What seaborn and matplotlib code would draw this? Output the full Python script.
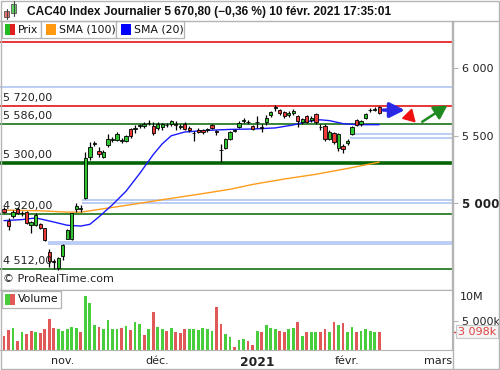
import numpy as np
import pandas as pd
import matplotlib
matplotlib.use("Agg")
import matplotlib.pyplot as plt
from matplotlib.patches import Rectangle, Polygon
from matplotlib.lines import Line2D
import matplotlib.transforms as mtrans
import seaborn as sns

# ---------------- data ----------------
opens = [4955, 4872, 4906, 4955, 4925, 4938, 4838, 4842, 4847, 4815,
         4637, 4570, 4520, 4611, 4739, 4734, 4957, 4960, 5037, 5345,
         5440, 5389, 5345, 5432, 5470, 5469, 5464, 5463, 5548, 5552,
         5575, 5572, 5595, 5574, 5560, 5562, 5580, 5587, 5582, 5567,
         5585, 5560, 5520, 5543, 5540, 5545, 5582, 5535, 5398, 5412,
         5474, 5538, 5567, 5610, 5605, 5572, 5600, 5562, 5599, 5653,
         5706, 5690, 5673, 5653, 5666, 5648, 5599, 5648, 5614, 5659,
         5565, 5575, 5474, 5518, 5407, 5424, 5444, 5511, 5616, 5585,
         5633, 5688, 5693, 5715]
highs = [4970, 4892, 4950, 4975, 4940, 4945, 4872, 4926, 4855, 4818,
         4660, 4590, 4605, 4700, 4810, 4932, 5005, 4990, 5382, 5456,
         5460, 5420, 5395, 5515, 5490, 5525, 5480, 5505, 5555, 5580,
         5590, 5600, 5615, 5600, 5600, 5595, 5595, 5620, 5609, 5590,
         5600, 5570, 5535, 5555, 5552, 5560, 5590, 5545, 5440, 5480,
         5535, 5548, 5610, 5635, 5615, 5580, 5645, 5585, 5655, 5685,
         5727, 5700, 5685, 5680, 5695, 5655, 5630, 5655, 5645, 5665,
         5590, 5585, 5540, 5530, 5520, 5440, 5475, 5570, 5625, 5615,
         5670, 5705, 5712, 5720]
lows = [4925, 4803, 4895, 4920, 4905, 4845, 4778, 4835, 4808, 4722,
        4530, 4518, 4508, 4581, 4735, 4726, 4938, 4935, 5030, 5320,
        5425, 5345, 5335, 5420, 5455, 5460, 5445, 5455, 5485, 5520,
        5555, 5560, 5580, 5505, 5545, 5545, 5565, 5575, 5542, 5550,
        5540, 5525, 5463, 5520, 5510, 5530, 5550, 5505, 5309, 5400,
        5465, 5528, 5560, 5595, 5585, 5545, 5555, 5530, 5580, 5640,
        5680, 5650, 5635, 5640, 5655, 5565, 5590, 5595, 5600, 5590,
        5540, 5462, 5465, 5440, 5390, 5375, 5430, 5505, 5570, 5575,
        5625, 5675, 5680, 5659]
closes = [4937, 4835, 4934, 4929, 4930, 4853, 4860, 4912, 4816, 4728,
          4571, 4569, 4594, 4692, 4803, 4926, 4984, 4962, 5333, 5419,
          5445, 5365, 5378, 5474, 5478, 5510, 5472, 5497, 5498, 5558,
          5579, 5590, 5598, 5518, 5585, 5585, 5576, 5611, 5585, 5570,
          5550, 5543, 5518, 5530, 5528, 5549, 5556, 5528, 5393, 5474,
          5527, 5540, 5592, 5613, 5604, 5551, 5604, 5560, 5633, 5678,
          5710, 5666, 5648, 5670, 5683, 5609, 5624, 5599, 5633, 5604,
          5567, 5476, 5525, 5456, 5513, 5400, 5463, 5562, 5582, 5609,
          5661, 5690, 5696, 5671]
volumes_m = [2.4, 3.4, 3.75, 1.55, 3.05, 2.7, 3.25, 3.05, 2.9, 3.6,
             5.3, 3.8, 3.6, 3.25, 3.6, 3.9, 3.75, 3.1, 9.2, 8.0,
             4.25, 3.9, 3.6, 5.1, 3.6, 3.6, 3.75, 4.1, 3.4, 4.8,
             4.4, 2.55, 3.6, 6.5, 3.9, 3.6, 3.25, 3.75, 3.05, 2.9,
             3.6, 3.6, 3.6, 3.4, 3.75, 3.6, 3.25, 7.3, 4.5, 2.7,
             2.2, 0.5, 1.7, 1.9, 1.55, 0.85, 3.25, 3.05, 4.25, 3.75,
             3.6, 3.25, 3.05, 3.6, 3.75, 4.8, 2.4, 3.05, 3.05, 3.05,
             3.05, 3.6, 3.05, 4.8, 4.25, 4.6, 3.05, 3.9, 3.05, 3.25,
             3.6, 3.25, 3.05, 3.098]
volume_dir_codes = ("ddududdudd" "dduuuuuduu" "uduuuududu" "ududuududd"
                    "duuuuuuddu" "uduudduduu" "udduududuu" "ddududuudu" "uuud")
volume_dir = ["up" if ch == "u" else "down" for ch in volume_dir_codes]

sma20_day = [0, 4, 7, 10, 14, 17, 19, 21, 24, 27, 30, 33, 35, 37, 40, 45,
             50, 55, 60, 64, 67, 70, 72, 75, 78, 83]
sma20_val = [4872, 4880, 4892, 4870, 4838, 4832, 4845, 4900, 4990, 5090,
             5220, 5360, 5440, 5500, 5528, 5540, 5547, 5550, 5558, 5580,
             5605, 5618, 5612, 5590, 5582, 5582]
sma100_day = [0, 8, 14, 17, 21, 28, 36, 43, 50, 55, 62, 69, 76, 83]
sma100_val = [4950, 4945, 4935, 4935, 4955, 4990, 5032, 5067, 5104, 5140,
              5180, 5215, 5258, 5305]

level_values = [5720, 5586, 5300, 4920, 4512]
level_labels = ["5 720,00", "5 586,00", "5 300,00", "4 920,00", "4 512,00"]
gap_start = [9.8, 17.3, 76.5]
gap_low = [4702, 5000, 5484]
gap_high = [4716, 5025, 5512]

month_days = [13, 34, 56, 76, 96]
month_labels = ["nov.", "déc.", "2021", "févr.", "mars"]

days = list(range(len(closes)))

# ---------------- styling ----------------
sns.set_style("white")
plt.rcParams["font.family"] = ["DejaVu Sans"]

W, H = 500, 370
fig = plt.figure(figsize=(W / 100, H / 100), dpi=100)
GRID = "#b4b4b4"
GREEN = "#2fc52f"
RED = "#ec3a3a"
DKGREEN = "#046404"


def fx(x):
    return x / W


def fy(y):
    return 1 - y / H


ax = fig.add_axes([0, fy(290), fx(452), (290 - 21) / H])
axv = fig.add_axes([0, fy(350), fx(452), 60 / H])

XMIN, XMAX = -0.885, 99.115
ax.set_xlim(XMIN, XMAX)
ax.set_ylim(4359, 6349)

# reference lines
ax.axhline(6195, color="#e00000", lw=1.1, zorder=1)
ax.axhline(5863, color="#aac0f2", lw=1.1, zorder=1)
ax.axhline(5720, color="#e00000", lw=1.1, zorder=1)
ax.axhline(5586, color=DKGREEN, lw=1.1, zorder=1)
ax.axhline(5300, color=DKGREEN, lw=2.6, zorder=1)
ax.axhline(4920, color=DKGREEN, lw=1.1, zorder=1)
ax.axhline(4512, color=DKGREEN, lw=1.1, zorder=1)
for s, lo, hi in zip(gap_start, gap_low, gap_high):
    ax.hlines([lo, hi], s, XMAX, color="#aac0f2", lw=1.1, zorder=1)

for v, lab in zip(level_values, level_labels):
    ax.annotate(lab, xy=(3 / 452, v), xycoords=("axes fraction", "data"),
                xytext=(0, 5), textcoords="offset pixels", fontsize=8,
                color="#222222", va="baseline", ha="left", zorder=6)

# moving averages
sns.lineplot(x=sma100_day, y=sma100_val, color="#ff9c1a", lw=1.0, ax=ax, zorder=2)
sns.lineplot(x=sma20_day, y=sma20_val, color="#1a1aff", lw=1.0, ax=ax, zorder=2)

# candles
o = np.array(opens, float)
c = np.array(closes, float)
cols = [GREEN if cc >= oo else RED for oo, cc in zip(o, c)]
ax.vlines(days, lows, highs, color="black", lw=0.9, zorder=3)
ax.bar(days, np.abs(c - o), bottom=np.minimum(o, c), width=0.72, color=cols,
       edgecolor="black", linewidth=0.6, zorder=4)

# drawn arrows
ax.annotate("", xy=(89.3, 5690), xytext=(83.3, 5690),
            arrowprops=dict(arrowstyle="-|>,head_length=0.9,head_width=0.45",
                            color="#2a2ae6", lw=2.5), zorder=5)
ax.add_patch(Polygon([(90.2, 5696), (88.2, 5629), (90.9, 5604)], closed=True,
                     color="#f01010", zorder=5))
ax.annotate("", xy=(98.6, 5735), xytext=(92.0, 5592),
            arrowprops=dict(arrowstyle="-|>,head_length=0.8,head_width=0.45",
                            color="#1f8a1f", lw=1.8), zorder=5)

ax.set_yticks([5000, 5500, 6000])
ax.set_yticklabels(["5 000", "5 500", "6 000"])
ax.yaxis.tick_right()
ax.tick_params(axis="y", length=4, width=0.8, color=GRID, pad=3, labelsize=8,
               labelcolor="#222222", right=True, left=False)
lbls = ax.get_yticklabels()
lbls[0].set_fontsize(8.6)
lbls[0].set_fontweight("bold")
ax.set_xticks([])
ax.set_xlabel("")
ax.set_ylabel("")
for sp in ["left", "top"]:
    ax.spines[sp].set_visible(False)
ax.spines["right"].set_color(GRID)
ax.spines["bottom"].set_color(GRID)
ax.spines["right"].set_linewidth(1)
ax.spines["bottom"].set_linewidth(1)

ax.text(3 / 452, 6 / 269, "© ProRealTime.com", transform=ax.transAxes,
        fontsize=8, color="#222222", va="bottom", ha="left")

# volume
vdf = pd.DataFrame({"day": days, "vol": volumes_m, "dir": volume_dir})
sns.barplot(data=vdf, x="day", y="vol", hue="dir",
            palette={"up": "#48cd3c", "down": "#e05858"}, native_scale=True,
            width=0.62, dodge=False, saturation=1, legend=False,
            errorbar=None, ax=axv, linewidth=0)
axv.set_xlim(XMIN, XMAX)
axv.set_ylim(0, 10.22)
axv.set_xticks(month_days)
axv.set_xticklabels(month_labels)
axv.tick_params(axis="x", length=3, width=0.8, color=GRID, pad=1, labelsize=8,
                labelcolor="#222222")
axv.get_xticklabels()[2].set_fontweight("bold")
axv.get_xticklabels()[2].set_fontsize(8.8)
axv.yaxis.tick_right()
axv.set_yticks([5])
axv.set_yticklabels(["5 000k"])
axv.tick_params(axis="y", length=4, width=0.8, color=GRID, pad=3, labelsize=8,
                labelcolor="#222222", right=True, left=False)
axv.annotate("10M", xy=(1, 10), xycoords=("axes fraction", "data"),
             xytext=(8, -1), textcoords="offset pixels", fontsize=8,
             color="#222222", va="top", ha="left", annotation_clip=False)
axv.annotate("3 098k", xy=(1, volumes_m[-1]), xycoords=("axes fraction", "data"),
             xytext=(6, 0), textcoords="offset pixels", fontsize=8,
             color="#e04040", va="center", ha="left", annotation_clip=False,
             bbox=dict(boxstyle="square,pad=0.15", fc="#f4f4f4", ec="#c8c8c8", lw=0.8))
axv.plot([1, 1 + 6 / 452], [volumes_m[-1]] * 2, color="#e04040", lw=1,
         transform=mtrans.blended_transform_factory(axv.transAxes, axv.transData),
         clip_on=False)
axv.set_xlabel("")
axv.set_ylabel("")
axv.spines["left"].set_visible(False)
axv.spines["top"].set_color(GRID)
axv.spines["right"].set_color(GRID)
axv.spines["bottom"].set_color(GRID)

# ---------------- header / legends ----------------
fig.add_artist(Line2D([0, 1], [fy(20.5), fy(20.5)], color=GRID, lw=1))
fig.add_artist(Line2D([fx(452.5), fx(452.5)], [fy(20.5), fy(368)], color=GRID, lw=1))
fig.add_artist(Rectangle((0.001, 0.003), 0.997, 0.995, fill=False, ec=GRID, lw=1,
                         transform=fig.transFigure))
fig.text(fx(27), fy(12), "CAC40 Index Journalier 5 670,80 (−0,36 %) 10 févr. 2021 17:35:01",
         fontsize=8.6, fontweight="bold", color="#111111", va="center", ha="left",
         family=["Liberation Sans", "DejaVu Sans"])


def frect(x0, y0, x1, y1, **kw):
    fig.add_artist(Rectangle((fx(x0), fy(y1)), fx(x1) - fx(x0), (y1 - y0) / H,
                             transform=fig.transFigure, **kw))


# icon
fig.add_artist(Line2D([fx(6.5), fx(6.5)], [fy(9), fy(19)], color="#444444", lw=0.8))
frect(4, 11, 9, 17, fc="#f07070", ec="#555555", lw=0.6)
fig.add_artist(Line2D([fx(13.5), fx(13.5)], [fy(1), fy(16)], color="#444444", lw=0.8))
frect(11, 4, 16, 13, fc="#60d860", ec="#555555", lw=0.6)

# legend boxes
for x0, x1 in [(2, 41), (41, 116), (116, 184)]:
    frect(x0, 21, x1, 38, fc="white", ec=GRID, lw=0.9)
frect(5, 24, 10, 35, fc="#22bb22", ec="none")
frect(10, 24, 15, 35, fc="#e02020", ec="none")
frect(46, 24, 56, 35, fc="#ff9a10", ec="none")
frect(121, 24, 131, 35, fc="#0000ff", ec="none")
for x, t in [(18, "Prix"), (59, "SMA (100)"), (134, "SMA (20)")]:
    fig.text(fx(x), fy(30), t, fontsize=7.8, color="#111111", va="center", ha="left")

frect(2, 291, 61, 308, fc="white", ec=GRID, lw=0.9)
frect(5, 294, 10, 305, fc="#48cd3c", ec="none")
frect(10, 294, 15, 305, fc="#e05858", ec="none")
fig.text(fx(18), fy(299.5), "Volume", fontsize=7.8, color="#111111", va="center", ha="left")

fig.savefig("out.png", dpi=100)
